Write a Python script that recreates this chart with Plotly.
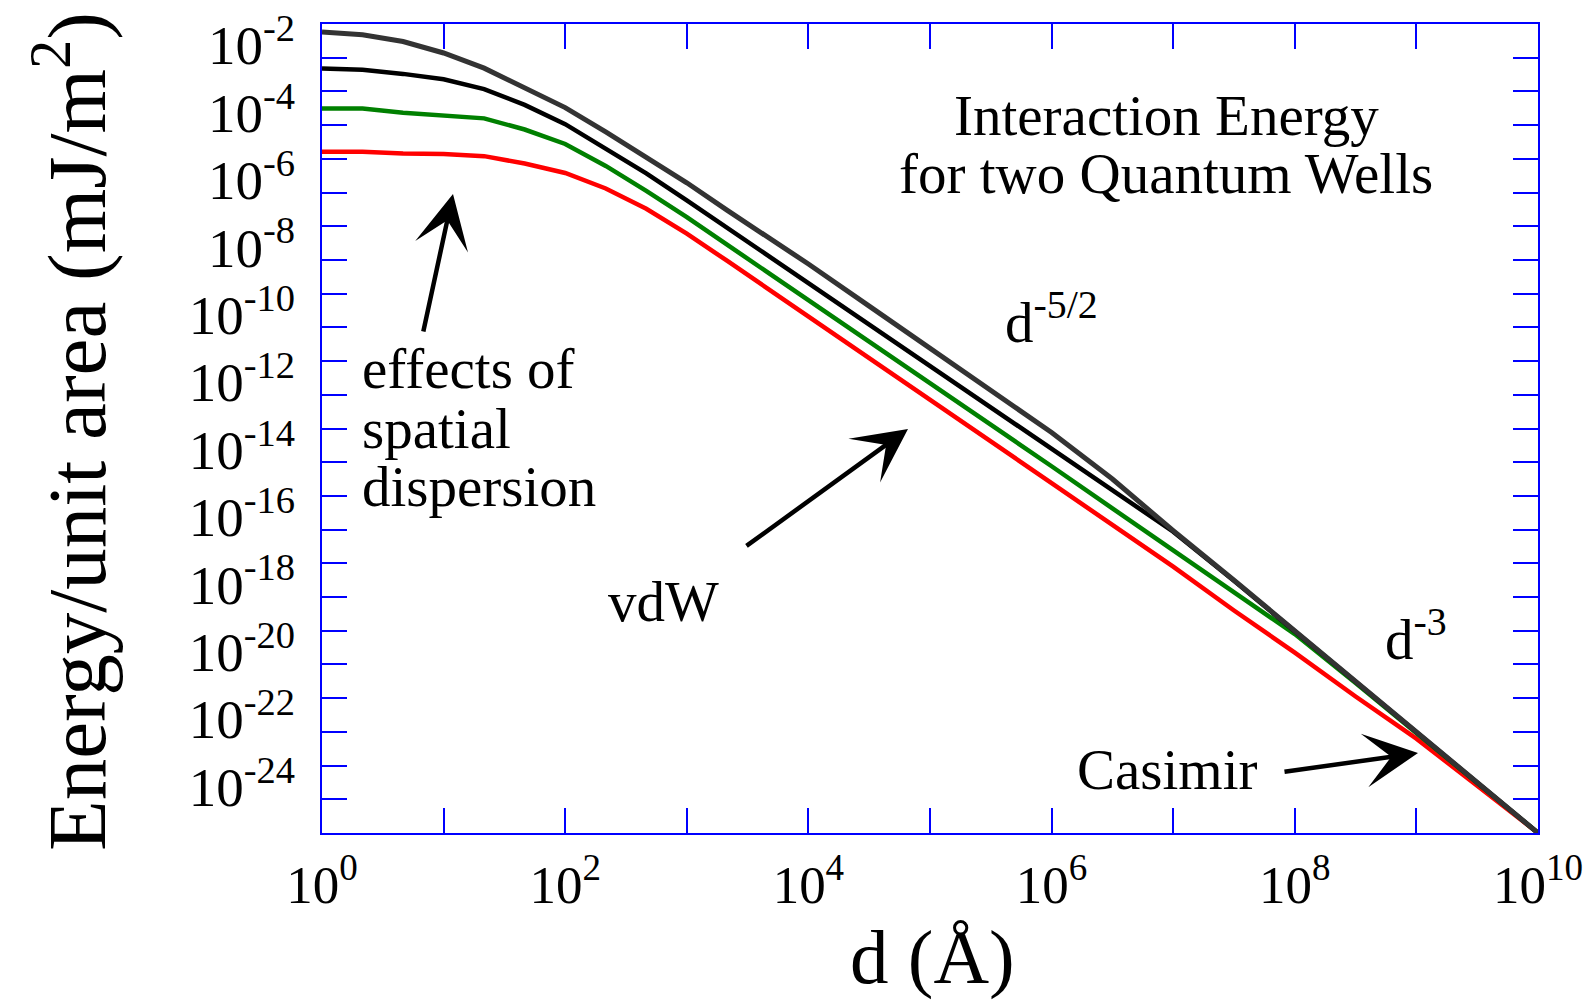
import numpy as np
import plotly.graph_objects as go

# ---- data, exponents of 10 ----
log_d = [0, 1/3, 2/3, 1, 4/3, 5/3, 2, 7/3, 8/3, 3, 10/3, 11/3, 4,
         4.5, 5, 5.5, 6, 6.5, 7, 7.5, 8, 8.5, 9, 9.5, 10]

logE_gray = [-2.24, -2.32, -2.52, -2.86, -3.31, -3.88, -4.48, -5.20, -5.94, -6.71, -7.53, -8.32, -9.12,
             -10.37, -11.62, -12.87, -14.12, -15.50, -17.03, -18.50, -20.00, -21.50, -23.00, -24.50, -26.0]
logE_black = [-3.32, -3.36, -3.48, -3.64, -3.93, -4.40, -4.97, -5.69, -6.43, -7.23, -8.05, -8.87, -9.68,
              -10.90, -12.12, -13.35, -14.60, -15.85, -17.06, -18.52, -20.02, -21.52, -23.02, -24.52, -26.0]
logE_green = [-4.51, -4.51, -4.63, -4.70, -4.80, -5.13, -5.56, -6.21, -6.95, -7.73, -8.55, -9.36, -10.18,
              -11.40, -12.63, -13.85, -15.12, -16.37, -17.62, -18.87, -20.10, -21.55, -23.05, -24.52, -26.0]
logE_red = [-5.79, -5.79, -5.84, -5.86, -5.92, -6.14, -6.42, -6.88, -7.48, -8.22, -9.03, -9.85, -10.67,
            -11.90, -13.14, -14.38, -15.62, -16.86, -18.10, -19.40, -20.65, -21.95, -23.20, -24.60, -26.0]

x_exps = list(range(0, 11))
y_exps = list(range(-26, -1))
x_ticktext = [f"10<sup>{e}</sup>" if e % 2 == 0 else "" for e in x_exps]
y_ticktext = [f"10<sup>{e}</sup>" if (e % 2 == 0 and e != -26) else "" for e in y_exps]

FONT = "Liberation Serif, Times New Roman, serif"
BLUE = "#0000ff"

d = np.power(10.0, log_d)
series = [
    (logE_red, "#ff0000", 4.5),
    (logE_green, "#008000", 4.5),
    (logE_black, "#000000", 4.5),
    (logE_gray, "#333333", 5),
]

fig = go.Figure()
for vals, col, w in series:
    fig.add_trace(go.Scatter(x=d, y=np.power(10.0, vals), mode="lines",
                             line=dict(color=col, width=w), showlegend=False,
                             hoverinfo="skip"))

L, R, T, B = 322, 50, 24, 168
W, H = 1588, 1001
pw = W - L - R
ph = H - T - B


def px(X):
    return (X - L) / pw


def py(Y):
    return (H - B - Y) / ph


axis_common = dict(showline=True, linecolor=BLUE, linewidth=2, mirror="allticks",
                   ticks="inside", ticklen=25, tickcolor=BLUE, tickwidth=1.5,
                   showgrid=False, zeroline=False)

fig.update_xaxes(type="log", range=[0, 10], tickmode="array",
                 tickvals=[10.0 ** e for e in x_exps], ticktext=x_ticktext,
                 ticklabelstandoff=4, tickfont=dict(family=FONT, size=53, color="black"),
                 **axis_common)
fig.update_yaxes(type="log", range=[-26, -2], tickmode="array",
                 tickvals=[10.0 ** e for e in y_exps], ticktext=y_ticktext,
                 ticklabelshift=21, ticklabelstandoff=14,
                 tickfont=dict(family=FONT, size=55, color="black"), **axis_common)

ann = []


def text(t, X, Y, size=57, xanchor="left"):
    ann.append(dict(text=t, x=px(X), y=py(Y), xref="paper", yref="paper",
                    showarrow=False, xanchor=xanchor, yanchor="middle",
                    font=dict(family=FONT, size=size, color="black")))


def arrow(tipX, tipY, tailX, tailY):
    ann.append(dict(text="", x=px(tipX), y=py(tipY), xref="paper", yref="paper",
                    ax=tailX - tipX, ay=tailY - tipY, axref="pixel", ayref="pixel",
                    showarrow=True, arrowhead=3, arrowsize=2.0, arrowwidth=4.5,
                    arrowcolor="black", standoff=0))


text("Interaction Energy", 1166, 116, xanchor="center")
text("for two Quantum Wells", 1166, 173, xanchor="center")
text("d<sup>-5/2</sup>", 1003, 318)
text("d<sup>-3</sup>", 1383, 635)
text("effects of", 360, 368)
text("spatial", 360, 428)
text("dispersion", 360, 486)
text("vdW", 606, 601)
text("Casimir", 1075, 769)
arrow(453, 194, 423, 333)
arrow(908, 429, 745, 547)
arrow(1418, 753, 1283, 772)

# axis titles
ann.append(dict(text="Energy/unit area (mJ/m<sup>2</sup>)", x=px(70), y=py(432),
                xref="paper", yref="paper", showarrow=False, textangle=-90,
                xanchor="center", yanchor="middle",
                font=dict(family=FONT, size=83, color="black")))
ann.append(dict(text="d (Å)", x=px(932), y=py(957), xref="paper", yref="paper",
                showarrow=False, xanchor="center", yanchor="middle",
                font=dict(family=FONT, size=77, color="black")))

fig.update_layout(width=W, height=H, margin=dict(l=L, r=R, t=T, b=B, autoexpand=False),
                  plot_bgcolor="white", paper_bgcolor="white", annotations=ann)

fig.write_html("out.html")
